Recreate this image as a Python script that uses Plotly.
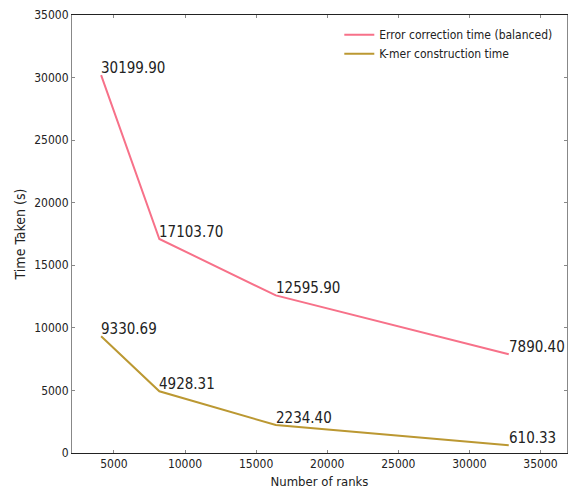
import plotly.graph_objects as go

ranks = [4096, 8192, 16384, 32768]
error_correction = [30199.90, 17103.70, 12595.90, 7890.40]
kmer_construction = [9330.69, 4928.31, 2234.40, 610.33]
series_names = ["Error correction time (balanced)", "K-mer construction time"]
colors = ["#f77189", "#bb9832"]
x_ticks = [5000, 10000, 15000, 20000, 25000, 30000, 35000]
y_ticks = [0, 5000, 10000, 15000, 20000, 25000, 30000, 35000]

FONT = "DejaVu Sans Condensed, DejaVu Sans, sans-serif"

fig = go.Figure()
for name, vals, col in zip(series_names, [error_correction, kmer_construction], colors):
    fig.add_trace(go.Scatter(x=ranks, y=vals, mode="lines", name=name,
                             line=dict(color=col, width=2)))
    for xv, yv in zip(ranks, vals):
        fig.add_annotation(x=xv, y=yv, text=f"{yv:.2f}", showarrow=False,
                           xanchor="left", yanchor="bottom", yshift=-4, xshift=-2,
                           font=dict(family=FONT, size=15, color="#222222"))

fig.update_layout(
    width=568, height=497,
    margin=dict(l=72, r=1, t=15, b=44, autoexpand=False),
    paper_bgcolor="white", plot_bgcolor="white",
    font=dict(family=FONT, size=12, color="#222222"),
    showlegend=True,
    legend=dict(x=0.54, y=0.988, xanchor="left", yanchor="top",
                bgcolor="rgba(0,0,0,0)", font=dict(size=12),
                tracegroupgap=0),
)
fig.update_xaxes(range=[2048, 36864], tickvals=x_ticks, ticktext=[str(v) for v in x_ticks],
                 showgrid=False, zeroline=False, automargin=False,
                 showline=True, linecolor="#222222", linewidth=1, mirror="ticks",
                 ticks="inside", ticklen=3, tickcolor="#888888",
                 title=dict(text="Number of ranks", font=dict(size=13), standoff=6))
fig.update_yaxes(range=[0, 35000], tickvals=y_ticks, ticktext=[str(v) for v in y_ticks],
                 showgrid=False, zeroline=False, automargin=False,
                 showline=True, linecolor="#888888", linewidth=1, mirror="ticks",
                 ticks="inside", ticklen=3, tickcolor="#888888",
                 title=dict(text="Time Taken (s)", font=dict(size=14), standoff=5))

fig.write_html("out.html", config={"displayModeBar": False},
               post_script="document.body.style.margin='0';document.body.style.overflow='hidden';")
